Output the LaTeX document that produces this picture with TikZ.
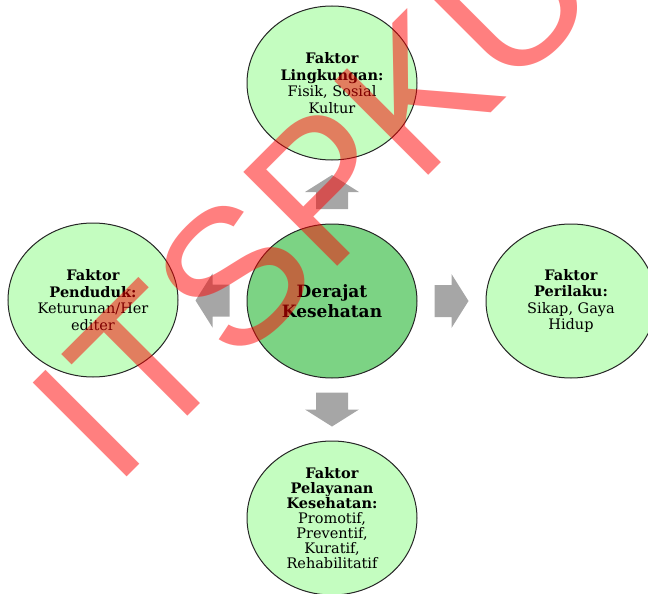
\documentclass[tikz,border=0pt]{standalone}
\usepackage{fontspec}
\setmainfont{DejaVu Serif}
\newfontfamily\wmfont{Liberation Sans}
\usetikzlibrary{shapes.geometric}
\definecolor{lightg}{RGB}{196,253,192}
\definecolor{darkg}{RGB}{124,211,132}
\definecolor{arrowgray}{RGB}{166,166,166}
\tikzset{
  factor/.style={ellipse, draw=black!85, line width=1pt, fill=lightg,
    minimum width=170pt, minimum height=154pt, inner sep=0pt, align=center,
    font=\fontsize{14.5}{16.5}\selectfont},
  core/.style={factor, fill=darkg, font=\fontsize{17}{20}\selectfont\bfseries},
  blockarrow/.style={fill=arrowgray, draw=none},
  watermark/.style={font=\wmfont\fontsize{193}{193}\selectfont, text=red,
    opacity=0.5, rotate=45, anchor=base west, inner sep=0pt}
}
\newcommand{\blockarrowpath}{(-17,-16) -- (0,-16) -- (0,-27) -- (17,0) -- (0,27) -- (0,16) -- (-17,16) -- cycle}
\begin{document}
\begin{tikzpicture}[x=1pt,y=-1pt]
\useasboundingbox (0,0) rectangle (648,594);
\node[factor] (top) at (332,83) {\textbf{Faktor}\\\textbf{Lingkungan:}\\Fisik, Sosial\\Kultur};
\node[core] (mid) at (332,301) {Derajat\\Kesehatan};
\node[factor] (left) at (93,300) {\textbf{Faktor}\\\textbf{Penduduk:}\\Keturunan/Her\\editer};
\node[factor] (right) at (571,301) {\textbf{Faktor}\\\textbf{Perilaku:}\\Sikap, Gaya\\Hidup};
\node[factor, font=\fontsize{14.5}{15}\selectfont] (bot) at (332,518) {\textbf{Faktor}\\\textbf{Pelayanan}\\\textbf{Kesehatan:}\\Promotif,\\Preventif,\\Kuratif,\\Rehabilitatif};
\path (mid.north) -- (top.south) coordinate[pos=0.5] (upc);
\path (mid.south) -- (bot.north) coordinate[pos=0.5] (downc);
\path (mid.west) -- (left.east) coordinate[pos=0.5] (leftc);
\path (mid.east) -- (right.west) coordinate[pos=0.5] (rightc);
\fill[blockarrow, shift={(upc)}, rotate=90] \blockarrowpath;
\fill[blockarrow, shift={(downc)}, rotate=-90] \blockarrowpath;
\fill[blockarrow, shift={(leftc)}, rotate=180] \blockarrowpath;
\fill[blockarrow, shift={(rightc)}] \blockarrowpath;
\node[watermark] (wm) at (114,490) {ITSPKU};
\end{tikzpicture}
\end{document}
